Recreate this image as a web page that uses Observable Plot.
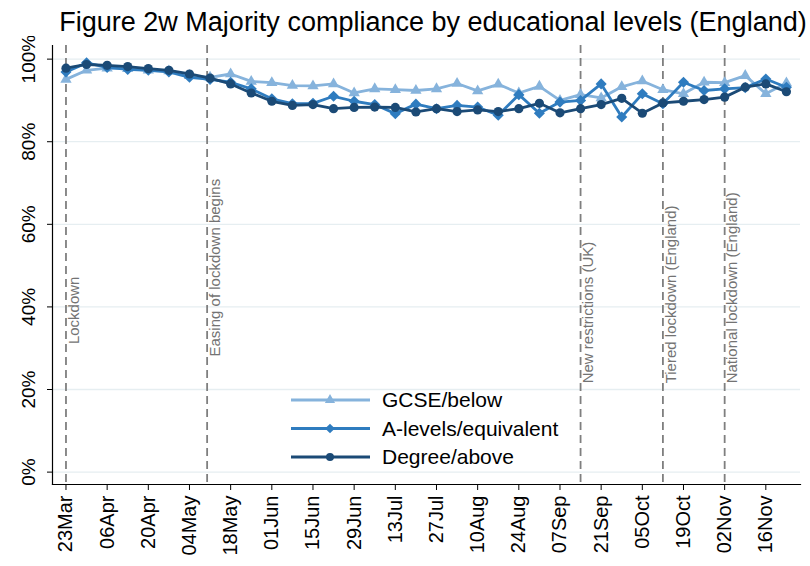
<!DOCTYPE html>
<html><head><meta charset="utf-8">
<script src="https://cdn.jsdelivr.net/npm/d3@7"></script>
<script src="https://cdn.jsdelivr.net/npm/@observablehq/plot@0.6"></script>
<style>
body{margin:0;background:#fff;font-family:"Liberation Sans",Arial,sans-serif;}
#wrap{position:relative;width:810px;height:566px;background:#fff;}
#title{height:36px;font-size:27px;line-height:44px;white-space:nowrap;text-align:center;padding-left:56px;color:#000;}
#legend{position:absolute;left:285px;top:385px;}
</style></head><body>
<div id="wrap">
<div id="title">Figure 2w Majority compliance by educational levels (England)</div>
<div id="chart"></div>
<div id="legend"></div>
</div>
<script>
const weeks = ["2020-03-23","2020-03-30","2020-04-06","2020-04-13","2020-04-20","2020-04-27","2020-05-04","2020-05-11","2020-05-18","2020-05-25","2020-06-01","2020-06-08","2020-06-15","2020-06-22","2020-06-29","2020-07-06","2020-07-13","2020-07-20","2020-07-27","2020-08-03","2020-08-10","2020-08-17","2020-08-24","2020-08-31","2020-09-07","2020-09-14","2020-09-21","2020-09-28","2020-10-05","2020-10-12","2020-10-19","2020-10-26","2020-11-02","2020-11-09","2020-11-16","2020-11-23"];
const gcse = [95.1,97.3,97.8,97.7,97.3,97.1,96.0,95.6,96.4,94.6,94.3,93.6,93.5,94.0,91.8,92.8,92.6,92.4,92.8,94.1,92.3,93.9,91.8,93.4,90.0,91.4,90.6,93.3,94.7,92.6,91.6,94.4,94.3,96.0,91.6,94.2];
const alevels = [96.9,99.1,98.0,97.5,97.3,96.9,95.6,95.1,94.4,92.8,90.4,89.2,89.3,91.0,89.8,89.0,86.8,89.1,88.0,88.8,88.4,86.4,91.4,86.9,89.6,90.0,94.0,86.0,91.6,89.2,94.4,92.4,92.8,93.1,95.2,93.2];
const degree = [97.8,98.7,98.5,98.2,97.7,97.3,96.4,95.4,94.0,91.8,89.8,88.8,89.0,88.0,88.3,88.4,88.3,87.2,88.0,87.3,87.7,87.3,88.0,89.3,87.0,88.0,89.0,90.5,86.9,89.4,89.8,90.2,90.8,93.2,94.0,92.1];
const seriesNames = ["GCSE/below","A-levels/equivalent","Degree/above"];
const eventDates = ["2020-03-23","2020-05-10","2020-09-14","2020-10-12","2020-11-02"];
const eventLabels = ["Lockdown","Easing of lockdown begins","New restrictions (UK)","Tiered lockdown (England)","National lockdown (England)"];
const eventLabelBase = [31,28,21.5,21.5,21.5];
const xTickLabels = ["23Mar","06Apr","20Apr","04May","18May","01Jun","15Jun","29Jun","13Jul","27Jul","10Aug","24Aug","07Sep","21Sep","05Oct","19Oct","02Nov","16Nov"];
const yTicks = [0,20,40,60,80,100];

const colors = ["#86b3dc","#2f7cbf","#1b4a76"];
const symbols = ["triangle","diamond2","circle"];
const radii = [4.2,5,4.6];

const parse = d3.utcParse("%Y-%m-%d");
const parseTick = d3.utcParse("%d%b%Y");
const values = [gcse, alevels, degree];
const rows = [];
values.forEach((arr, s) => arr.forEach((v, i) => rows.push({series: seriesNames[s], s, date: parse(weeks[i]), value: v})));
const events = eventDates.map((d, i) => ({date: parse(d), label: eventLabels[i], base: eventLabelBase[i]}));
const tickDates = xTickLabels.map(t => parseTick(t + "2020"));

const lineMarks = [];
seriesNames.forEach((name, s) => {
  const data = rows.filter(r => r.s === s);
  lineMarks.push(Plot.line(data, {x: "date", y: "value", stroke: colors[s], strokeWidth: 2.8}));
  lineMarks.push(Plot.dot(data, {x: "date", y: "value", symbol: () => symbols[s], fill: colors[s], stroke: "none", r: radii[s]}));
});

const chart = Plot.plot({
  width: 810, height: 530,
  marginTop: 9, marginBottom: 82, marginLeft: 52, marginRight: 10,
  style: {fontFamily: '"Liberation Sans", Arial, sans-serif', background: "#fff", color: "#000"},
  x: {type: "utc", domain: [new Date(Date.UTC(2020,2,18,10)), new Date(Date.UTC(2020,10,27,19))]},
  y: {domain: [-3, 103.3]},
  symbol: {type: "identity"},
  marks: [
    Plot.gridY(yTicks, {stroke: "#e6eef1", strokeOpacity: 1, strokeWidth: 1.3}),
    Plot.ruleX(events, {x: "date", stroke: "#7f7f7f", strokeWidth: 1.8, strokeDasharray: "8,5"}),
    Plot.text(events, {x: "date", y: "base", text: "label", rotate: -90, textAnchor: "start", dx: 8, fill: "#737373", fontSize: 15}),
    ...lineMarks,
    Plot.axisX({ticks: tickDates, tickFormat: d3.utcFormat("%d%b"), tickRotate: -90, tickSize: 6, tickPadding: 5, label: null, fontSize: 20}),
    Plot.axisY({ticks: yTicks, tickFormat: () => "", tickSize: 5, label: null}),
    Plot.text(yTicks, {y: d => d, text: d => d + "%", frameAnchor: "left", rotate: -90, dx: -24, textAnchor: "middle", fontSize: 19, fill: "#000"}),
    Plot.frame({anchor: "left", stroke: "#000", strokeWidth: 1.2}),
    Plot.frame({anchor: "bottom", stroke: "#000", strokeWidth: 1.2})
  ]
});
document.getElementById("chart").appendChild(chart);

// legend
const lg = d3.select("#legend").append("svg").attr("width", 300).attr("height", 90)
  .style("font-family", '"Liberation Sans", Arial, sans-serif');
seriesNames.forEach((name, s) => {
  const cy = 15 + s * 28.5;
  const g = lg.append("g");
  g.append("line").attr("x1", 6).attr("x2", 85).attr("y1", cy).attr("y2", cy).attr("stroke", colors[s]).attr("stroke-width", 2.8);
  const sym = s === 0 ? d3.symbolTriangle : s === 1 ? d3.symbolDiamond2 : d3.symbolCircle;
  g.append("path").attr("d", d3.symbol(sym, s === 0 ? 45 : s === 1 ? 60 : 50)()).attr("transform", `translate(45,${cy})`).attr("fill", colors[s]);
  g.append("text").attr("x", 97).attr("y", cy).attr("dy", "0.35em").attr("font-size", 21).attr("fill", "#000").text(name);
});
</script>
</body></html>
